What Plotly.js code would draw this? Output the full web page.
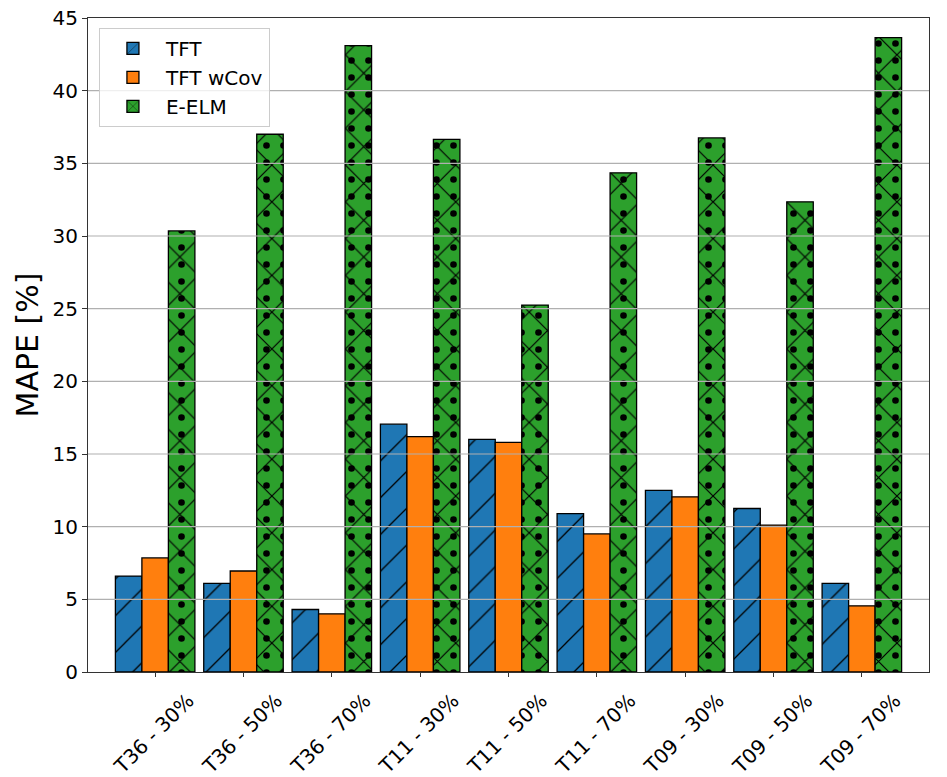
<!DOCTYPE html>
<html>
<head>
<meta charset="utf-8">
<script src="https://cdn.plot.ly/plotly-3.0.1.min.js"></script>
<style>
  html, body { margin: 0; padding: 0; background: #fff; }
  #chart { width: 947px; height: 777px; }
</style>
</head>
<body>
<div id="chart"></div>
<script>
const categories = ['T36 - 30%', 'T36 - 50%', 'T36 - 70%', 'T11 - 30%', 'T11 - 50%', 'T11 - 70%', 'T09 - 30%', 'T09 - 50%', 'T09 - 70%']
const tft = [6.6, 6.1, 4.3, 17.05, 16.0, 10.9, 12.5, 11.25, 6.1]
const tftWCov = [7.85, 6.95, 4.0, 16.2, 15.8, 9.5, 12.05, 10.1, 4.55]
const eElm = [30.35, 37.0, 43.1, 36.65, 25.25, 34.35, 36.75, 32.35, 43.65]
const yTicks = [5, 10, 15, 20, 25, 30, 35, 40]

const font = 'DejaVu Sans, sans-serif'
const edge = { color: '#000000', width: 1.3 }

const traces = [
  {
    type: 'bar', name: 'TFT', x: categories, y: tft,
    width: 0.3, offset: -0.45,
    marker: {
      color: '#1f77b4', line: edge,
      pattern: { shape: '/', size: 26, solidity: 0.05, fgcolor: '#000000', bgcolor: '#1f77b4', fillmode: 'replace' },
    },
  },
  {
    type: 'bar', name: 'TFT wCov', x: categories, y: tftWCov,
    width: 0.3, offset: -0.15,
    marker: { color: '#ff7f0e', line: edge },
  },
  {
    type: 'bar', name: 'E-ELM', x: categories, y: eElm, legendgroup: 'eelm',
    width: 0.3, offset: 0.15,
    marker: {
      color: '#2ca02c', line: edge,
      pattern: { shape: 'x', size: 26, solidity: 0.09, fgcolor: '#000000', bgcolor: '#2ca02c', fillmode: 'replace' },
    },
  },
  {
    // dots on top of the cross hatch
    type: 'bar', name: 'E-ELM', x: categories, y: eElm, legendgroup: 'eelm', showlegend: false,
    width: 0.3, offset: 0.15, hoverinfo: 'skip',
    marker: {
      color: 'rgba(0,0,0,0)', line: { width: 0 },
      pattern: { shape: '.', size: 17, solidity: 0.12, fgcolor: '#000000', fgopacity: 1, fillmode: 'overlay' },
    },
  },
]

// matplotlib draws the grid above the bars
const gridShapes = yTicks.map(v => ({
  type: 'line', xref: 'paper', yref: 'y', x0: 0, x1: 1, y0: v, y1: v,
  line: { color: '#b0b0b0', width: 1.1 }, layer: 'above',
}))

const layout = {
  width: 947,
  height: 777,
  margin: { t: 18, r: 18, b: 105, l: 88 },
  paper_bgcolor: '#ffffff',
  plot_bgcolor: '#ffffff',
  font: { family: font, color: '#000000', size: 20 },
  barmode: 'overlay',
  showlegend: true,
  shapes: gridShapes,
  legend: {
    x: 0.013, y: 0.985, xanchor: 'left', yanchor: 'top',
    bgcolor: 'rgba(255,255,255,0.8)', bordercolor: '#cccccc', borderwidth: 1,
    font: { family: font, size: 20, color: '#000000' },
    traceorder: 'normal',
    itemwidth: 56,
  },
  xaxis: {
    type: 'category',
    range: [-0.76, 8.76],
    showgrid: false,
    zeroline: false,
    showline: true, mirror: true, linecolor: '#333333', linewidth: 1,
    ticks: 'outside', ticklen: 4, tickcolor: '#333333',
    tickangle: -45,
    ticklabelshift: 33,
    ticklabelstandoff: 4,
    tickfont: { family: font, size: 20, color: '#000000' },
  },
  yaxis: {
    range: [0, 45],
    dtick: 5,
    showgrid: false,
    zeroline: false,
    showline: true, mirror: true, linecolor: '#333333', linewidth: 1,
    ticks: 'outside', ticklen: 5, tickcolor: '#333333',
    tickfont: { family: font, size: 20, color: '#000000' },
    title: { text: 'MAPE [%]', font: { family: font, size: 30, color: '#000000' }, standoff: 5 },
  },
}

Plotly.newPlot('chart', traces, layout, { displayModeBar: false, staticPlot: true })
</script>
</body>
</html>
